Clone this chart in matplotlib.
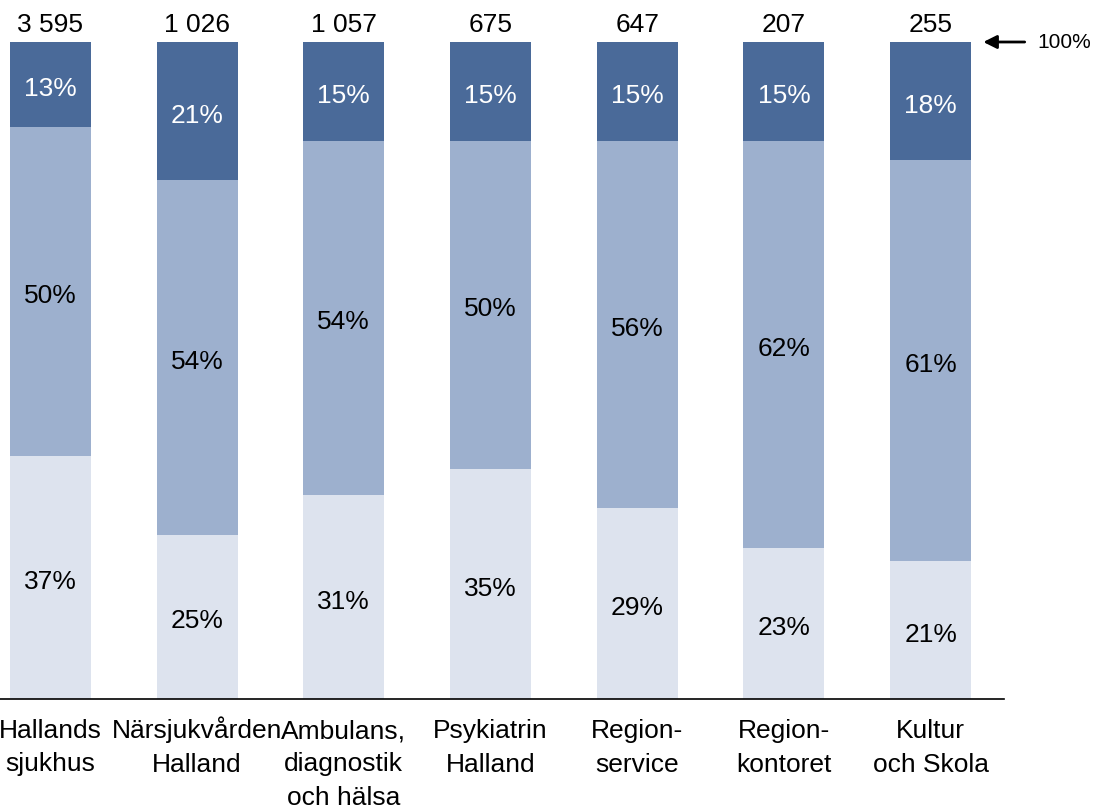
import matplotlib
matplotlib.use("Agg")
import matplotlib.pyplot as plt
import numpy as np

plt.rcParams['font.family'] = ['Liberation Sans', 'DejaVu Sans']

categories = ["Hallands\nsjukhus", "Närsjukvården\nHalland", "Ambulans,\ndiagnostik\noch hälsa",
              "Psykiatrin\nHalland", "Region-\nservice", "Region-\nkontoret", "Kultur\noch Skola"]
totals = ["3 595", "1 026", "1 057", "675", "647", "207", "255"]
bottom_pct = [37, 25, 31, 35, 29, 23, 21]
middle_pct = [50, 54, 54, 50, 56, 62, 61]
top_pct = [13, 21, 15, 15, 15, 15, 18]

c_top = "#4A6A99"
c_mid = "#9DB0CE"
c_bot = "#DDE3EE"

fig = plt.figure(figsize=(11.06, 8.08), dpi=100)
ax = fig.add_axes([-23/1106, 109/808, 1027/1106, 657/808])
x = np.arange(len(categories))
w = 0.552
b = np.array(bottom_pct) / 100
m = np.array(middle_pct) / 100
t = np.array(top_pct) / 100
ax.bar(x, b, w, color=c_bot)
ax.bar(x, m, w, bottom=b, color=c_mid)
ax.bar(x, t, w, bottom=b + m, color=c_top)

fs = 19
cap_off = -0.716 * fs / 2 - 1.5  # points, to center cap height on the segment


def centered(txt, xx, yy, color):
    ax.annotate(txt, xy=(xx, yy), xytext=(0, cap_off), textcoords="offset points",
                ha="center", va="baseline", fontsize=fs, color=color)


for i in range(len(x)):
    centered(f"{bottom_pct[i]}%", x[i], b[i] / 2, "black")
    centered(f"{middle_pct[i]}%", x[i], b[i] + m[i] / 2, "black")
    centered(f"{top_pct[i]}%", x[i], b[i] + m[i] + t[i] / 2, "white")
    ax.annotate(totals[i], xy=(x[i], b[i] + m[i] + t[i]), xytext=(0, 10), textcoords="offset pixels",
                ha="center", va="baseline", fontsize=fs, color="black", annotation_clip=False)

ax.set_xlim(-0.5, 6.5)
ax.set_ylim(0, 1)
for s in ["top", "right", "left"]:
    ax.spines[s].set_visible(False)
ax.spines["bottom"].set_linewidth(1.2)
ax.set_yticks([])
ax.set_xticks(x)
ax.set_xticklabels([])
ax.tick_params(axis="x", length=0)

# category labels, one line at a time on fixed baselines
line_gap = 33.5
for i, lab in enumerate(categories):
    for k, line in enumerate(lab.split("\n")):
        ax.annotate(line, xy=(x[i], 0), xycoords=ax.get_xaxis_transform(),
                    xytext=(0, -39 - k * line_gap), textcoords="offset pixels",
                    ha="center", va="baseline", fontsize=fs, color="black", annotation_clip=False)

ax.annotate("", xy=(6.34, 1.0), xytext=(6.66, 1.0), xycoords="data",
            arrowprops=dict(arrowstyle="-|>", color="black", lw=2.0, mutation_scale=20),
            annotation_clip=False)
ax.text(6.73, 1.0, "100%", ha="left", va="center", fontsize=15, color="black", clip_on=False)

fig.savefig("out.png", dpi=100)
